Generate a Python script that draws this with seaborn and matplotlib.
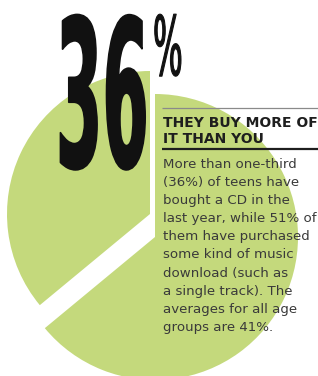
import matplotlib
matplotlib.use("Agg")
import matplotlib.pyplot as plt
import matplotlib.patheffects as pe
from matplotlib.transforms import Affine2D
import seaborn as sns

# data
shares = [36, 64]          # % of teens who bought a CD vs rest
share_labels = ["bought a CD", "did not"]
headline = "36"
headline_unit = "%"
title_lines = ["THEY BUY MORE OF", "IT THAN YOU"]
body_lines = [
    "More than one-third",
    "(36%) of teens have",
    "bought a CD in the",
    "last year, while 51% of",
    "them have purchased",
    "some kind of music",
    "download (such as",
    "a single track). The",
    "averages for all age",
    "groups are 41%.",
]

GREEN = "#c4d97c"
W, H = 318, 376


class Stretch(pe.AbstractPathEffect):
    # stretch the glyphs around the text origin to fake a tall condensed display face
    def __init__(self, sx=1.0, sy=1.0, lw=0):
        super().__init__()
        self.sx, self.sy, self.lw = sx, sy, lw

    def draw_path(self, renderer, gc, tpath, affine, rgbFace=None):
        ox, oy = affine.transform((0, 0))
        t = affine + Affine2D().translate(-ox, -oy).scale(self.sx, self.sy).translate(ox, oy)
        gc0 = renderer.new_gc()
        gc0.copy_properties(gc)
        if self.lw:
            gc0.set_linewidth(self.lw)
            gc0.set_foreground(rgbFace)
        renderer.draw_path(gc0, tpath, t, rgbFace)
        gc0.restore()


sns.set_theme(style="white")

fig = plt.figure(figsize=(W / 100, H / 100), dpi=100)
ax = fig.add_axes([0, 0, 1, 1])

# the 36% slice, pulled up and to the left
ax.pie(shares, colors=[GREEN, "none"], startangle=90, radius=143,
       center=(150, 162), wedgeprops=dict(linewidth=0))
# the remaining 64%
ax.pie(shares, colors=["none", GREEN], startangle=90, radius=143,
       center=(155, 139), wedgeprops=dict(linewidth=0))

ax.set_xlim(0, W)
ax.set_ylim(0, H)
ax.axis("off")

# big number
ax.text(56, 209, headline, fontsize=48, fontweight="bold", color="#111111",
        family="DejaVu Sans", ha="left", va="baseline",
        path_effects=[Stretch(1.0, 148 / 48, lw=1.2)])
ax.text(153, 301, headline_unit, fontsize=22.5, color="#111111",
        family="DejaVu Sans", ha="left", va="baseline",
        path_effects=[Stretch(1.0, 59 / 22.5, lw=0.8)])

# side box
ax.plot([162, W], [268, 268], color="#8a8a8a", lw=0.9, solid_capstyle="butt")
for i, line in enumerate(title_lines):
    ax.text(163, 249 - 16 * i, line, fontsize=10, fontweight="bold",
            family="DejaVu Sans", color="#1e1e1e", ha="left", va="baseline")
ax.plot([162, W], [227, 227], color="#1e1e1e", lw=1.6, solid_capstyle="butt")
for i, line in enumerate(body_lines):
    ax.text(163, 208 - 18.1 * i, line, fontsize=9.6, family="DejaVu Sans",
            color="#3a3a3a", ha="left", va="baseline")

fig.savefig("out.png", dpi=100)
